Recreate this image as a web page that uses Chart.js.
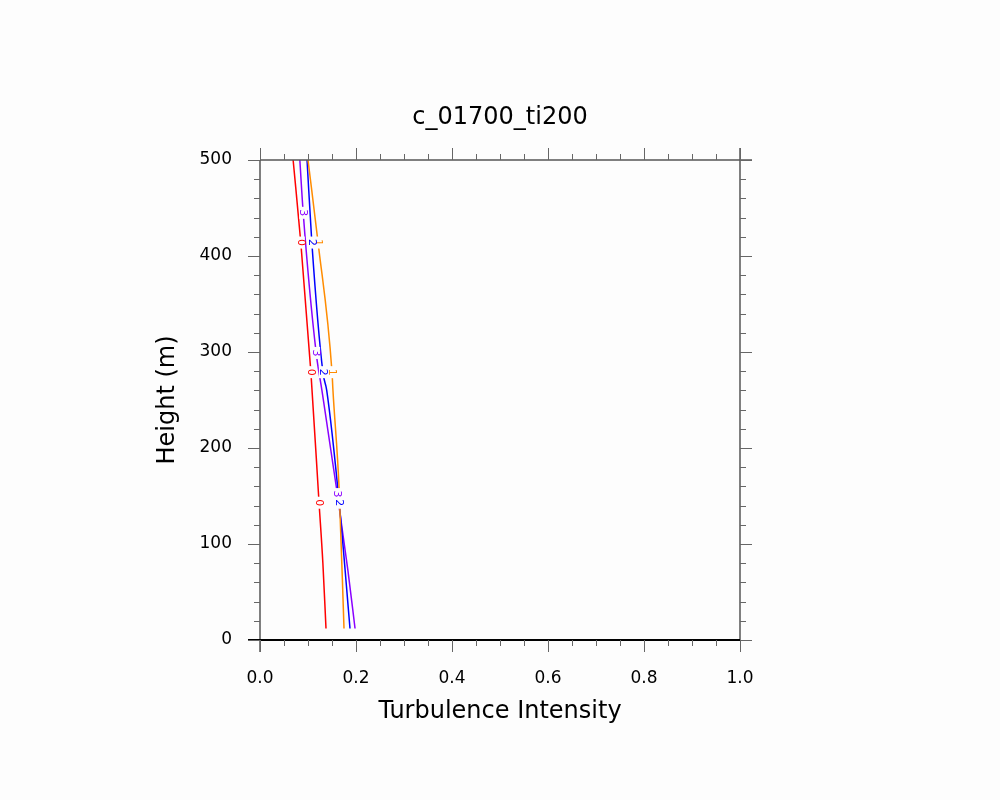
<!DOCTYPE html>
<html>
<head>
<meta charset="utf-8">
<script src="https://cdn.jsdelivr.net/npm/chart.js@4/dist/chart.umd.min.js"></script>
<style>
  html, body { margin: 0; padding: 0; background: #fdfdfd; }
  #wrap { width: 1000px; height: 800px; }
</style>
</head>
<body>
<div id="wrap"><canvas id="c" width="1000" height="800"></canvas></div>
<script>
// ─── Data (turbulence intensity vs height) ─────────────────
const heights0 = [12, 80, 143, 279, 414, 500];
const ti0      = [0.1375, 0.131, 0.123, 0.106, 0.085, 0.069];
const heights1 = [12, 156, 260, 279, 414, 500];
const ti1      = [0.175, 0.165, 0.152, 0.150, 0.121, 0.100];
const heights2 = [12, 143, 260, 279, 414, 500];
const ti2      = [0.1875, 0.165, 0.139, 0.131, 0.108, 0.098];
const heights3 = [12, 73, 156, 260, 299, 445, 500];
const ti3      = [0.198, 0.183, 0.160, 0.129, 0.117, 0.090, 0.083];

const seriesNames  = ['0', '1', '2', '3'];
const seriesColors = ['#ff0000', '#ff8c00', '#0000ff', '#8a00ff'];
// inline contour-style labels: [series, x, y, text]
const inlineLabels = [
    [0, 0.085, 414, '0'], [0, 0.106, 279, '0'], [0, 0.123, 143, '0'],
    [1, 0.121, 414, '1'], [1, 0.150, 279, '1'],
    [2, 0.108, 414, '2'], [2, 0.131, 279, '2'], [2, 0.165, 143, '2'],
    [3, 0.090, 445, '3'], [3, 0.117, 299, '3'], [3, 0.160, 152, '3'],
];

const xTicks = [0, 0.2, 0.4, 0.6, 0.8, 1.0];
const yTicks = [0, 100, 200, 300, 400, 500];

function pts(xs, ys) {
    return xs.map(function (x, i) { return { x: x, y: ys[i] }; });
}

// ─── Plugin: NCL-style frame, outward ticks, titles, labels ─
const nclFrame = {
    id: 'nclFrame',
    afterDatasetsDraw(chart) {
        const ctx = chart.ctx;
        const a = chart.chartArea;
        const xs = chart.scales.x, ys = chart.scales.y;
        ctx.save();

        // inline labels
        ctx.font = '11px "DejaVu Sans", sans-serif';
        ctx.textAlign = 'center';
        ctx.textBaseline = 'middle';
        inlineLabels.forEach(function (l) {
            const px = xs.getPixelForValue(l[1]);
            const py = ys.getPixelForValue(l[2]);
            ctx.fillStyle = '#fdfdfd';
            ctx.fillRect(px - 4, py - 6, 8, 12);
            ctx.save();
            ctx.translate(px, py);
            ctx.rotate(Math.PI / 2);
            ctx.fillStyle = seriesColors[l[0]];
            ctx.fillText(l[3], 0, 0);
            ctx.restore();
        });

        const L = a.left, R = a.right, T = a.top, B = a.bottom;
        ctx.strokeStyle = '#555';
        ctx.lineWidth = 1.5;
        ctx.beginPath();
        ctx.moveTo(L, T); ctx.lineTo(R + 12, T);
        ctx.moveTo(L, B + 12); ctx.lineTo(L, T);
        ctx.moveTo(R, B); ctx.lineTo(R, T - 12);
        ctx.stroke();
        ctx.strokeStyle = '#000';
        ctx.lineWidth = 2;
        ctx.beginPath();
        ctx.moveTo(L - 12, B); ctx.lineTo(R, B);
        ctx.stroke();

        ctx.strokeStyle = '#666';
        ctx.lineWidth = 1;
        ctx.beginPath();
        for (let i = 0; i <= 20; i++) {
            const v = i * 0.05;
            const px = Math.round(xs.getPixelForValue(v)) + 0.5;
            const len = i % 4 === 0 ? 12 : 6;
            ctx.moveTo(px, B); ctx.lineTo(px, B + len);
            ctx.moveTo(px, T); ctx.lineTo(px, T - len);
        }
        for (let v = 0; v <= 500; v += 20) {
            const py = Math.round(ys.getPixelForValue(v)) + 0.5;
            const len = v % 100 === 0 ? 12 : 6;
            ctx.moveTo(L, py); ctx.lineTo(L - len, py);
            ctx.moveTo(R, py); ctx.lineTo(R + len, py);
        }
        ctx.stroke();

        ctx.fillStyle = '#000';
        ctx.textAlign = 'center';
        ctx.textBaseline = 'middle';
        ctx.font = '24px "DejaVu Sans", sans-serif';
        ctx.fillText('c_01700_ti200', (L + R) / 2, 118);
        ctx.fillText('Turbulence Intensity', (L + R) / 2, 712);
        ctx.save();
        ctx.translate(168, (T + B) / 2);
        ctx.rotate(-Math.PI / 2);
        ctx.fillText('Height (m)', 0, 0);
        ctx.restore();
        ctx.restore();
    }
};

// ─── Chart ─────────────────────────────────────────────────
const allH = [heights0, heights1, heights2, heights3];
const allT = [ti0, ti1, ti2, ti3];

new Chart(document.getElementById('c'), {
    type: 'scatter',
    data: {
        datasets: seriesNames.map(function (name, i) {
            return {
                label: name,
                data: pts(allT[i], allH[i]),
                showLine: true,
                borderColor: seriesColors[i],
                borderWidth: 1.5,
                pointRadius: 0,
                cubicInterpolationMode: 'monotone',
                tension: 0.4,
            };
        }),
    },
    options: {
        responsive: false,
        animation: false,
        layout: { padding: { top: 160, right: 260, left: 0, bottom: 0 } },
        plugins: { legend: { display: false }, tooltip: { enabled: false } },
        scales: {
            x: {
                type: 'linear', min: 0, max: 1,
                afterFit(s) { s.height = 160; },
                afterBuildTicks(s) { s.ticks = xTicks.map(function (v) { return { value: v }; }); },
                grid: { display: false },
                border: { display: false },
                ticks: {
                    color: '#000', padding: 20,
                    font: { family: '"DejaVu Sans", sans-serif', size: 17 },
                    callback(v) { return v.toFixed(1); },
                },
            },
            y: {
                type: 'linear', min: 0, max: 500,
                afterFit(s) { s.width = 260; },
                afterBuildTicks(s) { s.ticks = yTicks.map(function (v) { return { value: v }; }); },
                grid: { display: false },
                border: { display: false },
                ticks: {
                    color: '#000', padding: 20,
                    font: { family: '"DejaVu Sans", sans-serif', size: 17 },
                },
            },
        },
    },
    plugins: [nclFrame],
});
</script>
</body>
</html>
